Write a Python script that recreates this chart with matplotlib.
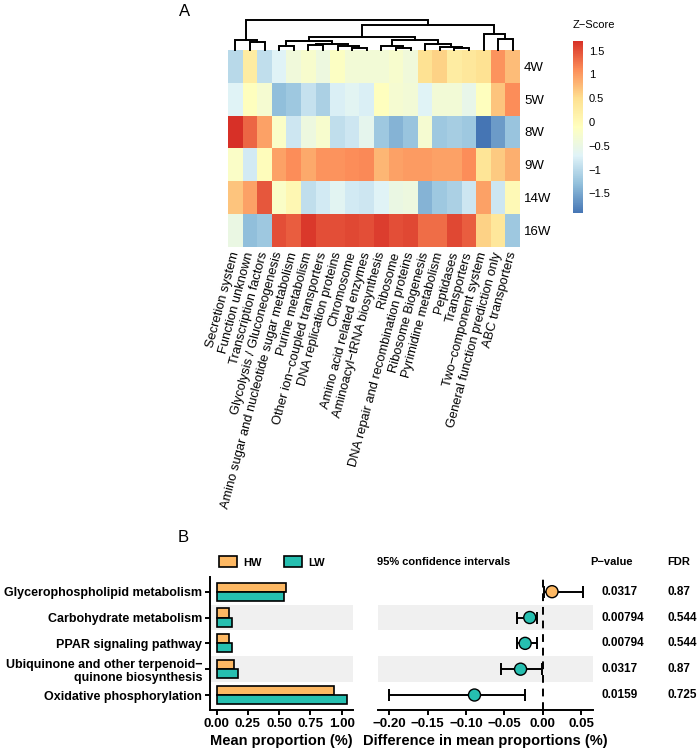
import matplotlib
matplotlib.use("Agg")
import matplotlib.pyplot as plt
import numpy as np
from matplotlib.colors import LinearSegmentedColormap
from matplotlib.patches import Patch
from matplotlib.transforms import blended_transform_factory

plt.rcParams["font.family"] = ["Liberation Sans", "DejaVu Sans"]

# ---------------- panel A data ----------------
weeks = ["4W", "5W", "8W", "9W", "14W", "16W"]
pathways = [
    "Secretion system", "Function unknown", "Transcription factors",
    "Glycolysis / Gluconeogenesis", "Amino sugar and nucleotide sugar metabolism",
    "Purine metabolism", "Other ion\u2212coupled transporters", "DNA replication proteins",
    "Chromosome", "Amino acid related enzymes", "Aminoacyl\u2212tRNA biosynthesis",
    "Ribosome", "DNA repair and recombination proteins", "Ribosome Biogenesis",
    "Pyrimidine metabolism", "Peptidases", "Transporters", "Two\u2212component system",
    "General function prediction only", "ABC transporters",
]
z_4w = [-1.0, 0.25, -0.95, -0.7, -0.4, -0.25, -0.45, -0.15, -0.35, -0.35,
        -0.35, -0.25, -0.4, 0.45, 0.6, 0.25, 0.35, 0.45, 1.05, 0.75]
z_5w = [-0.7, -0.1, -0.3, -1.3, -1.2, -0.9, -1.1, -0.75, -0.65, -0.75,
        -0.1, -0.3, -0.35, -0.7, -0.35, -0.35, -0.55, -0.1, 0.7, 1.1]
z_8w = [1.71, 1.35, 0.95, -0.2, -0.85, -0.45, -0.25, -0.95, -0.85, -0.6,
        -1.2, -1.4, -1.25, -0.3, -1.2, -1.15, -1.2, -1.92, -1.6, -1.25]
z_9w = [-0.2, -0.8, -0.05, 0.95, 1.1, 0.9, 1.05, 1.05, 1.1, 1.12,
        0.8, 0.95, 1.0, 1.0, 0.95, 0.95, 1.1, 0.4, 0.65, 0.85]
z_14w = [0.7, 0.95, 1.45, -0.2, 0.05, -0.95, -0.8, -0.65, -0.8, -0.85,
         -0.7, -0.5, -0.45, -1.4, -1.2, -1.1, -0.85, 0.95, -0.85, 0.0]
z_16w = [-0.5, -1.3, -1.2, 1.5, 1.4, 1.65, 1.5, 1.5, 1.55, 1.5,
         1.62, 1.5, 1.55, 1.3, 1.3, 1.55, 1.4, 0.6, 0.35, -1.2]

# column dendrogram: (left, right, height); leaves 0..19, new clusters from 20
merges = [
    (11, 12, 2.0), (15, 16, 2.0), (8, 9, 2.3), (14, 21, 3.3), (3, 4, 4.0),
    (10, 20, 4.0), (7, 22, 4.5), (5, 6, 5.0), (13, 23, 6.0), (27, 26, 6.5),
    (1, 2, 8.3), (24, 29, 9.0), (0, 30, 10.0), (25, 28, 10.0), (18, 19, 11.0),
    (31, 33, 13.3), (17, 34, 16.0), (35, 36, 25.5), (32, 37, 30.0),
]

# ---------------- panel B data ----------------
categories = [
    "Glycerophospholipid metabolism", "Carbohydrate metabolism",
    "PPAR signaling pathway", "Ubiquinone and other terpenoid\u2212\nquinone biosynthesis",
    "Oxidative phosphorylation",
]
hw_mean = [0.555, 0.100, 0.099, 0.141, 0.940]
lw_mean = [0.540, 0.123, 0.120, 0.168, 1.040]
diff_mean = [0.012, -0.017, -0.023, -0.029, -0.089]
ci_low = [0.002, -0.034, -0.034, -0.054, -0.200]
ci_high = [0.052, -0.007, -0.008, -0.001, -0.023]
p_values = ["0.0317", "0.00794", "0.00794", "0.0317", "0.0159"]
fdr_values = ["0.87", "0.544", "0.544", "0.87", "0.725"]

HW_COLOR = "#FDB863"
LW_COLOR = "#26BFB0"
BAND = "#F0F0F0"

W, H = 697, 753
fig = plt.figure(figsize=(W / 100, H / 100), dpi=100)


def box(x0, y0, x1, y1):
    # pixel box (top-left origin) -> figure fraction rect
    return [x0 / W, 1 - y1 / H, (x1 - x0) / W, (y1 - y0) / H]


# ---------------- heatmap ----------------
zmat = np.array([z_4w, z_5w, z_8w, z_9w, z_14w, z_16w])
cmap = LinearSegmentedColormap.from_list(
    "rdylbu7", ["#4575B4", "#91BFDB", "#E0F3F8", "#FFFFBF", "#FEE090", "#FC8D59", "#D73027"])
vmin, vmax = zmat.min(), zmat.max()

ax_h = fig.add_axes(box(228, 50, 520, 246.7))
im = ax_h.imshow(zmat, cmap=cmap, vmin=vmin, vmax=vmax, aspect="auto", interpolation="nearest")
for s in ax_h.spines.values():
    s.set_visible(False)
ax_h.set_xticks(range(len(pathways)))
ax_h.set_xticklabels(pathways, rotation=75, ha="right", va="center",
                     rotation_mode="anchor", fontsize=9.3)
ax_h.yaxis.tick_right()
ax_h.set_yticks(range(len(weeks)))
ax_h.set_yticklabels(weeks, fontsize=9.5)
ax_h.tick_params(length=0, pad=3)
ax_h.tick_params(axis="x", pad=4)

# dendrogram
ax_d = fig.add_axes(box(228, 20, 520, 50))
ax_d.set_xlim(-0.5, len(pathways) - 0.5)
ax_d.set_ylim(0, 30)
ax_d.axis("off")
pos = {i: (float(i), 0.0) for i in range(len(pathways))}
for k, (a, b, h) in enumerate(merges):
    xa, ha_ = pos[a]
    xb, hb = pos[b]
    ax_d.plot([xa, xa, xb, xb], [ha_, h, h, hb], color="black", lw=1.4,
              clip_on=False, solid_joinstyle="miter")
    pos[len(pathways) + k] = ((xa + xb) / 2, h)

# colorbar
cax = fig.add_axes(box(572.7, 40.7, 583.3, 213.3))
cb = fig.colorbar(im, cax=cax)
cb.outline.set_visible(False)
cticks = [-1.5, -1, -0.5, 0, 0.5, 1, 1.5]
cb.set_ticks(cticks)
cb.set_ticklabels([("%g" % t).replace("-", "\u2212") for t in cticks])
cax.tick_params(length=0, labelsize=8, pad=4)
fig.text(572.7 / W, 1 - 25 / H, "Z\u2212Score", fontsize=8, ha="left", va="center")

fig.text(185 / W, 1 - 12 / H, "A", fontsize=12, ha="center", va="center")
fig.text(183 / W, 1 - 538 / H, "B", fontsize=12, ha="center", va="center")

# ---------------- panel B: bars ----------------
n = len(categories)
ypos = np.arange(n)[::-1] + 1.0
bar_h = 0.35

ax_b = fig.add_axes(box(210, 576.7, 352.7, 710))
for i, y in enumerate(ypos):
    if i % 2 == 1:
        ax_b.axhspan(y - 0.5, y + 0.5, color=BAND, lw=0, zorder=0)
ax_b.barh(ypos + bar_h / 2, hw_mean, height=bar_h, color=HW_COLOR,
          edgecolor="black", lw=1.2, zorder=2)
ax_b.barh(ypos - bar_h / 2, lw_mean, height=bar_h, color=LW_COLOR,
          edgecolor="black", lw=1.2, zorder=2)
ax_b.set_xlim(-0.053, 1.088)
ax_b.set_ylim(0.42, n + 0.58)
ax_b.set_yticks(ypos)
ax_b.set_yticklabels(categories, fontsize=9, fontweight="bold")
ax_b.set_xticks([0, 0.25, 0.5, 0.75, 1.0])
ax_b.set_xticklabels(["0.00", "0.25", "0.50", "0.75", "1.00"], fontsize=9.5, fontweight="bold")
ax_b.set_xlabel("Mean proportion (%)", fontsize=10.5, fontweight="bold", labelpad=3)
for side in ["top", "right"]:
    ax_b.spines[side].set_visible(False)
for side in ["left", "bottom"]:
    ax_b.spines[side].set_linewidth(1.4)
ax_b.tick_params(width=1.4, length=3.5, pad=2)

# ---------------- panel B: CI ----------------
ax_c = fig.add_axes(box(378.3, 576.7, 592.7, 710))
for i, y in enumerate(ypos):
    if i % 2 == 1:
        ax_c.axhspan(y - 0.5, y + 0.5, color=BAND, lw=0, zorder=0)
ax_c.axvline(0, color="black", ls=(0, (4, 3)), lw=1.4, zorder=1)
d = np.array(diff_mean)
err = [d - np.array(ci_low), np.array(ci_high) - d]
ax_c.errorbar(d, ypos, xerr=err, fmt="none", ecolor="black", elinewidth=1.4,
              capsize=4.5, capthick=1.4, zorder=2)
pt_colors = [HW_COLOR if v > 0 else LW_COLOR for v in diff_mean]
ax_c.scatter(d, ypos, s=75, c=pt_colors, edgecolors="black", linewidths=1, zorder=3)
ax_c.set_xlim(-0.2143, 0.065)
ax_c.set_ylim(0.42, n + 0.58)
ax_c.set_yticks([])
ci_ticks = [-0.2, -0.15, -0.1, -0.05, 0, 0.05]
ax_c.set_xticks(ci_ticks)
ax_c.set_xticklabels([("%.2f" % t).replace("-", "\u2212") for t in ci_ticks],
                     fontsize=9.5, fontweight="bold")
ax_c.set_xlabel("Difference in mean proportions (%)", fontsize=10.5, fontweight="bold", labelpad=3)
for side in ["top", "right", "left"]:
    ax_c.spines[side].set_visible(False)
ax_c.spines["bottom"].set_linewidth(1.4)
ax_c.tick_params(width=1.4, length=3.5, pad=2)

# p-values and FDR
tr = blended_transform_factory(fig.transFigure, ax_c.transData)
for y, p, f in zip(ypos, p_values, fdr_values):
    ax_c.text(601 / W, y, p, transform=tr, fontsize=8.5, fontweight="bold", ha="left", va="center")
    ax_c.text(667 / W, y, f, transform=tr, fontsize=8.5, fontweight="bold", ha="left", va="center")

# headers
hy = 1 - 562 / H
fig.text(377 / W, hy, "95% confidence intervals", fontsize=8, fontweight="bold", va="center")
fig.text(590 / W, hy, "P\u2212value", fontsize=8, fontweight="bold", va="center")
fig.text(667 / W, hy, "FDR", fontsize=8, fontweight="bold", va="center")

handles = [Patch(facecolor=HW_COLOR, edgecolor="black", lw=1.2),
           Patch(facecolor=LW_COLOR, edgecolor="black", lw=1.2)]
fig.legend(handles, ["HW", "LW"], loc="center left", bbox_to_anchor=(209 / W, hy),
           ncol=2, frameon=False, prop={"weight": "bold", "size": 8},
           handlelength=1.6, handleheight=1.1, handletextpad=0.6, columnspacing=2.0)

fig.savefig("out.png", dpi=100)
